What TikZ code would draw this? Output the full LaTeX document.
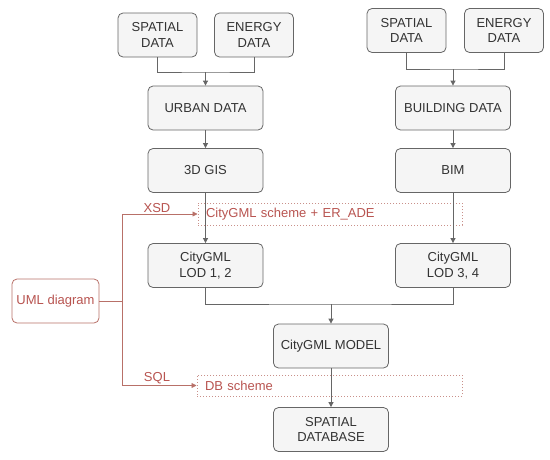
\documentclass[tikz,border=0pt]{standalone}
\usepackage{fontspec}
\setmainfont{Liberation Sans}
\usetikzlibrary{arrows.meta}
\definecolor{boxfill}{HTML}{F5F5F5}
\definecolor{boxdraw}{HTML}{666666}
\definecolor{boxtext}{HTML}{333333}
\definecolor{redtext}{HTML}{B85450}
\definecolor{redline}{HTML}{B87068}
\definecolor{reddot}{HTML}{C9908A}
\tikzset{
  box/.style={draw=boxdraw, fill=boxfill, text=boxtext, rounded corners=5pt, align=center,
    font=\fontsize{13pt}{15.5pt}\selectfont, inner sep=2pt, line width=0.8pt},
  bigbox/.style={box, minimum width=115pt, minimum height=44pt},
  smallbox/.style={box, minimum width=79pt, minimum height=44pt},
  dotbox/.style={draw=reddot, dotted, line width=1pt, text=redtext, font=\fontsize{13pt}{15.5pt}\selectfont,
    align=left, inner xsep=8pt, inner ysep=0pt},
  conn/.style={draw=boxdraw, line width=0.8pt},
  arr/.style={conn, -{Triangle[width=5pt,length=5pt]}},
  rconn/.style={draw=redline, line width=0.8pt},
  rarr/.style={rconn, -{Triangle[width=5pt,length=5pt]}},
  redlab/.style={text=redtext, font=\fontsize{13pt}{15.5pt}\selectfont, inner sep=0pt},
}
\begin{document}
\begin{tikzpicture}[x=1pt,y=-1pt]
\useasboundingbox (0,0) rectangle (550,459);
% left column
\node[smallbox] (sp1) at (157.5,35) {SPATIAL\\DATA};
\node[smallbox] (en1) at (254,35) {ENERGY\\DATA};
\node[bigbox] (urban) at (205.5,108) {URBAN DATA};
\node[bigbox] (gis) at (205.5,170.5) {3D GIS};
\node[bigbox] (lod12) at (205.5,265.5) {CityGML\\LOD 1, 2};
% right column
\node[smallbox] (sp2) at (406.5,30.5) {SPATIAL\\DATA};
\node[smallbox] (en2) at (504,30.5) {ENERGY\\DATA};
\node[bigbox] (bldg) at (453,108) {BUILDING DATA};
\node[bigbox] (bim) at (453,170.5) {BIM};
\node[bigbox] (lod34) at (453,265.5) {CityGML\\LOD 3, 4};
% bottom
\node[bigbox] (model) at (331,346) {CityGML MODEL};
\node[bigbox] (sdb) at (331,429.5) {SPATIAL\\DATABASE};
% UML
\node[box, draw=redline, fill=white, text=redtext, minimum width=87pt, minimum height=44pt] (uml) at (55.5,301) {UML diagram};
% dotted boxes
\node[dotbox, text width=248pt, minimum height=22pt] (xsdbox) at (330,214) {CityGML scheme + ER\_ADE};
\node[dotbox, text width=249pt, minimum height=21pt] (dbbox) at (329.5,385.5) {DB scheme};
% junctions
\coordinate (j1) at (205.5,72);
\coordinate (j2) at (453,69);
\coordinate (j3) at (331,304);
\coordinate (ju) at (122,301);
% connectors
\draw[conn] (sp1.south) |- (j1) -| (en1.south);
\draw[arr] (j1) -- (urban.north);
\draw[arr] (urban.south) -- (gis.north);
\draw[arr] (gis.south) -- (lod12.north);
\draw[conn] (sp2.south) |- (j2) -| (en2.south);
\draw[arr] (j2) -- (bldg.north);
\draw[arr] (bldg.south) -- (bim.north);
\draw[arr] (bim.south) -- (lod34.north);
\draw[conn] (lod12.south) |- (j3) -| (lod34.south);
\draw[arr] (j3) -- (model.north);
\draw[arr] (model.south) -- (sdb.north);
% red connectors
\draw[rconn] (uml.east) -- (ju);
\draw[rarr] (ju) |- (xsdbox.west);
\draw[rarr] (ju) |- (dbbox.west);
\node[redlab] (xsd) at (157,208) {XSD};
\node[redlab] (sql) at (157,378) {SQL};
\end{tikzpicture}
\end{document}
